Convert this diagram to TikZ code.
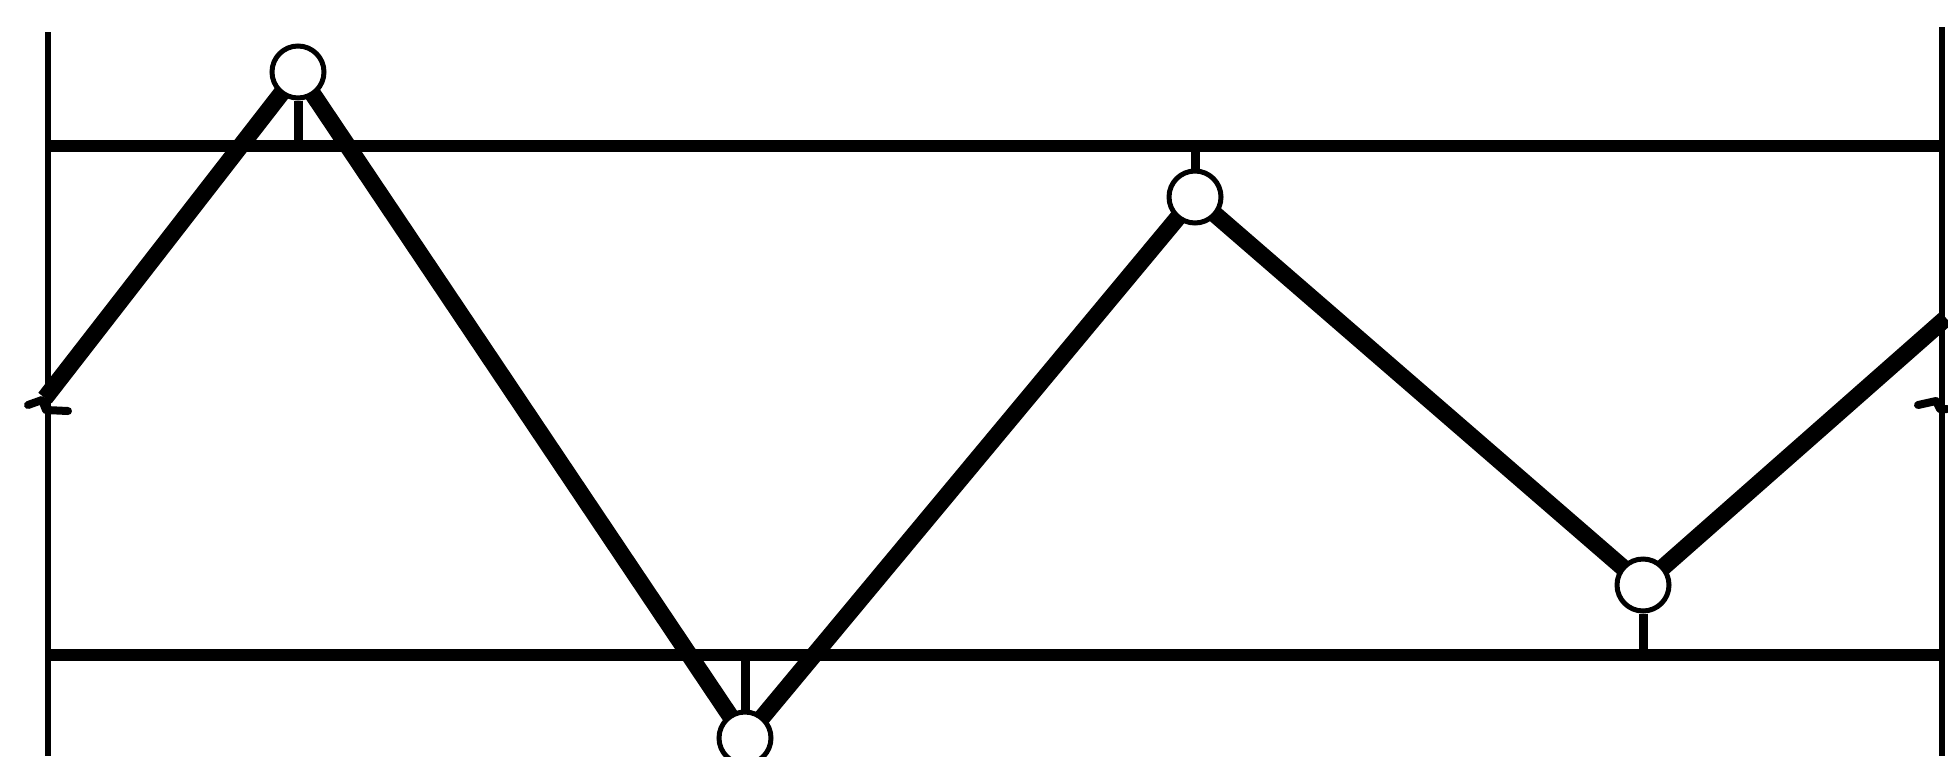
\documentclass[tikz,border=0pt]{standalone}
\usetikzlibrary{backgrounds}
\begin{document}
\begin{tikzpicture}[x=0.5pt,y=-0.5pt,
  joint/.style={circle,draw,fill=white,line width=2.5pt,minimum size=26pt,inner sep=0pt},
  member/.style={line width=8.5pt},
  chord/.style={line width=6pt},
  post/.style={line width=3pt},
  tick/.style={line width=4.5pt},
  breakmark/.style={line width=4pt,line cap=round,line join=round}]
\useasboundingbox (0,0) rectangle (1948,756);
% frame coordinates
\coordinate (TL) at (48,146);
\coordinate (TR) at (1942,146);
\coordinate (BL) at (48,655);
\coordinate (BR) at (1942,655);
\coordinate (LT) at (48,32);
\coordinate (LB) at (48,756);
\coordinate (RT) at (1942,27);
\coordinate (RB) at (1942,756);
\coordinate (Lend) at (45,398);
\coordinate (Rend) at (1946,318);
% joints
\node[joint] (c1) at (298,72) {};
\node[joint] (c3) at (745,738) {};
\node[joint] (c2) at (1195,197) {};
\node[joint] (c4) at (1643,585) {};
\begin{pgfonlayer}{background}
% verticals and chords
\draw[post] (LT) -- (LB);
\draw[post] (RT) -- (RB);
\draw[chord] (TL) -- (TR);
\draw[chord] (BL) -- (BR);
% zigzag members
\draw[member,line join=round] (Lend) -- (c1.center) -- (c3.center) -- (c2.center) -- (c4.center) -- (Rend);
\end{pgfonlayer}
% ticks
\draw[tick] (c1.south) -- (c1.south |- TL);
\draw[tick] (c2.north) -- (c2.north |- TL);
\draw[tick] (c3.north) -- (c3.north |- BL);
\draw[tick] (c4.south) -- (c4.south |- BL);
% break marks
\coordinate (lb1) at (28,405);
\coordinate (lb2) at (42,400);
\coordinate (lb3) at (46,410);
\coordinate (lb4) at (68,411);
\draw[breakmark] (lb1) -- (lb2) -- (lb3) -- (lb4);
\coordinate (rb1) at (1918,405);
\coordinate (rb2) at (1936,401);
\coordinate (rb3) at (1940,409);
\coordinate (rb4) at (1947,409);
\draw[breakmark] (rb1) -- (rb2) -- (rb3) -- (rb4);
\end{tikzpicture}
\end{document}
